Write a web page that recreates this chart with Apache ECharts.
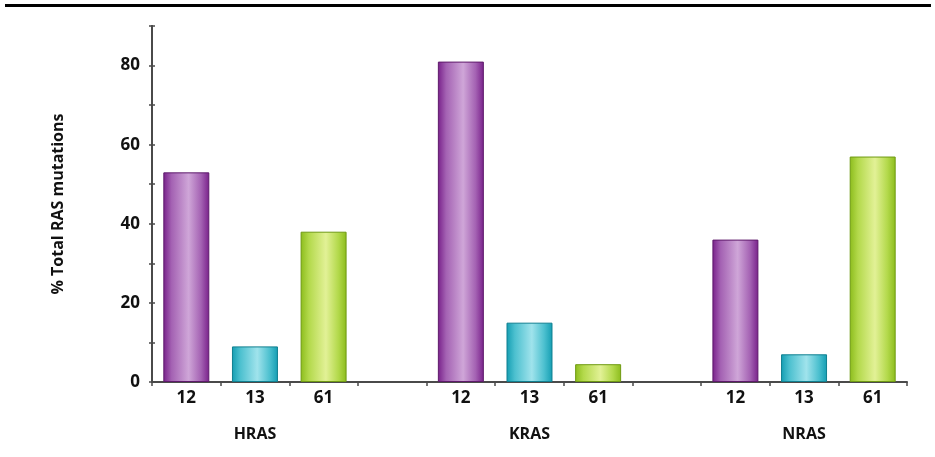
<!DOCTYPE html>
<html>
<head>
<meta charset="utf-8">
<script src="https://cdn.jsdelivr.net/npm/echarts@6/dist/echarts.min.js"></script>
<style>
  html, body { margin: 0; padding: 0; background: #ffffff; }
  #chart { width: 935px; height: 457px; }
</style>
</head>
<body>
<div id="chart"></div>
<script>
// Codon positions and RAS genes
const codons = ['12', '13', '61'];
const genes = ['HRAS', 'KRAS', 'NRAS'];

// % of total RAS mutations at each codon, per gene
const hrasValues = [53, 9, 38];
const krasValues = [81, 15, 4.5];
const nrasValues = [36, 7, 57];

// y-axis tick labels
const yTickLabels = [0, 20, 40, 60, 80];
const yTitle = '% Total RAS mutations';

// Cylinder-like horizontal shading for each codon colour
const palette = {
  '12': { edge: '#78208a', mid: '#a462b3', light: '#cfa6d8', border: '#5e1a6b' },
  '13': { edge: '#139db2', mid: '#4cc0cf', light: '#a0e3ec', border: '#0f7f90' },
  '61': { edge: '#8cbc1c', mid: '#b3d94b', light: '#e2f196', border: '#6f9a12' }
};

function shade(c) {
  return {
    type: 'linear', x: 0, y: 0, x2: 1, y2: 0,
    colorStops: [
      { offset: 0, color: c.edge },
      { offset: 0.18, color: c.mid },
      { offset: 0.55, color: c.light },
      { offset: 0.82, color: c.mid },
      { offset: 1, color: c.edge }
    ]
  };
}

// Slots: three codons per gene, with an empty slot between genes
const slots = [];
const barData = [];
const groupLabels = [];
const valueSets = [hrasValues, krasValues, nrasValues];
genes.forEach((g, gi) => {
  codons.forEach((c, ci) => {
    slots.push(g + '|' + c);
    groupLabels.push(ci === 1 ? g : '');
    const col = palette[c];
    barData.push({
      value: valueSets[gi][ci],
      itemStyle: { color: shade(col), borderColor: col.border, borderWidth: 1 }
    });
  });
  if (gi < genes.length - 1) {
    slots.push('gap' + gi);
    groupLabels.push('');
    barData.push(null);
  }
});

const axisColor = '#4a4a4a';
const fontFamily = '"Open Sans", "Noto Sans", sans-serif';

const chart = echarts.init(document.getElementById('chart'), null, { renderer: 'canvas' });

const yBase = {
  type: 'value',
  min: 0,
  max: 90,
  interval: 10,
  splitLine: { show: false },
  axisLine: { show: true, lineStyle: { color: axisColor, width: 2 } }
};

chart.setOption({
  backgroundColor: '#ffffff',
  animation: false,
  grid: { left: 152, right: 28, top: 26, bottom: 75, containLabel: false },
  graphic: [{
    type: 'rect',
    shape: { x: 5, y: 4, width: 926, height: 3 },
    style: { fill: '#000000' }
  }],
  xAxis: [{
    type: 'category',
    data: slots,
    position: 'bottom',
    boundaryGap: true,
    axisLine: { show: true, lineStyle: { color: axisColor, width: 2 } },
    axisTick: { show: true, alignWithLabel: false, length: 4, lineStyle: { color: axisColor, width: 1.5 } },
    axisLabel: {
      interval: 0,
      margin: 8,
      color: '#111111',
      fontFamily: fontFamily,
      fontWeight: 'bold',
      fontSize: 17,
      formatter: v => (v.indexOf('|') >= 0 ? v.split('|')[1] : '')
    }
  }, {
    type: 'category',
    data: groupLabels.map((g, i) => g || (' '.repeat(i + 1))),
    position: 'bottom',
    offset: 36,
    boundaryGap: true,
    axisLine: { show: false },
    axisTick: { show: false },
    axisLabel: {
      interval: 0,
      color: '#111111',
      fontFamily: fontFamily,
      fontWeight: 'bold',
      fontSize: 16,
      formatter: v => v.trim()
    }
  }],
  yAxis: [Object.assign({}, yBase, {
    name: yTitle,
    nameLocation: 'middle',
    nameGap: 86,
    nameRotate: 90,
    nameTextStyle: { color: '#111111', fontFamily: fontFamily, fontWeight: 'bold', fontSize: 16 },
    axisTick: { show: true, length: 3, lineStyle: { color: axisColor, width: 1.5 } },
    axisLabel: {
      margin: 12,
      color: '#111111',
      fontFamily: fontFamily,
      fontWeight: 'bold',
      fontSize: 17,
      formatter: v => (yTickLabels.indexOf(v) >= 0 ? String(v) : '')
    }
  }), Object.assign({}, yBase, {
    position: 'left',
    axisTick: { show: true, inside: true, length: 3, lineStyle: { color: axisColor, width: 1.5 } },
    axisLabel: { show: false }
  })],
  series: [{
    type: 'bar',
    xAxisIndex: 0,
    yAxisIndex: 0,
    data: barData,
    barCategoryGap: '33%'
  }]
});
</script>
</body>
</html>
